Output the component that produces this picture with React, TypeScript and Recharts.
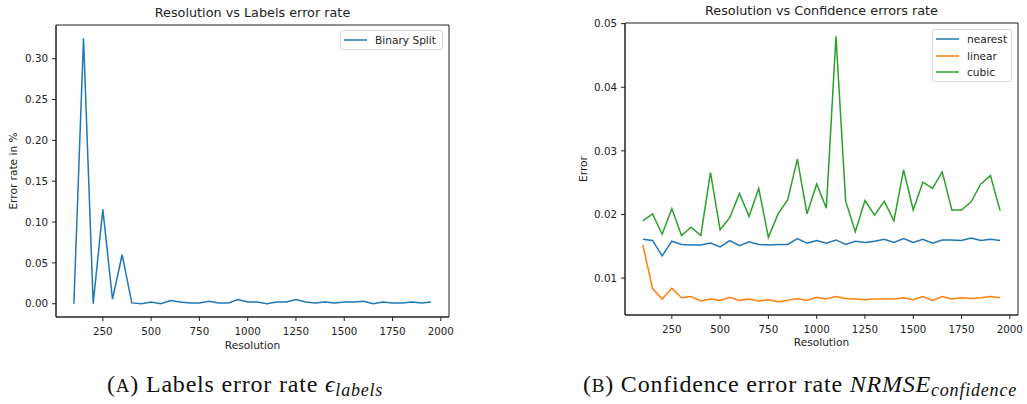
import React from 'react';
import { LineChart, Line, XAxis, YAxis, ReferenceArea } from 'recharts';

// resolutions 100..1950, step 50
const resolutions = [
  100, 150, 200, 250, 300, 350, 400, 450, 500, 550, 600, 650, 700, 750, 800, 850, 900, 950, 1000,
  1050, 1100, 1150, 1200, 1250, 1300, 1350, 1400, 1450, 1500, 1550, 1600, 1650, 1700, 1750, 1800,
  1850, 1900, 1950,
];

const binarySplit = [
  0, 0.325, 0, 0.1155, 0.0057, 0.06, 0.001, 0, 0.002, 0, 0.004, 0.002, 0.001, 0.001, 0.003, 0.001,
  0.001, 0.005, 0.002, 0.002, 0, 0.002, 0.002, 0.005, 0.002, 0.001, 0.002, 0.001, 0.002, 0.002,
  0.003, 0, 0.002, 0.001, 0.001, 0.002, 0.001, 0.002,
];

const nearest = [
  0.0161, 0.0159, 0.0135, 0.0158, 0.0153, 0.0152, 0.0152, 0.0155, 0.0149, 0.0159, 0.0151, 0.0157,
  0.0153, 0.0152, 0.0153, 0.0153, 0.0162, 0.0155, 0.0159, 0.0155, 0.016, 0.0153, 0.0158, 0.0156,
  0.0158, 0.0161, 0.0156, 0.0162, 0.0156, 0.0161, 0.0155, 0.016, 0.016, 0.0159, 0.0163, 0.0159,
  0.0161, 0.0159,
];

const linear = [
  0.0152, 0.0084, 0.0067, 0.0084, 0.0069, 0.0071, 0.0064, 0.0067, 0.0065, 0.007, 0.0065, 0.0067,
  0.0064, 0.0066, 0.0063, 0.0065, 0.0068, 0.0065, 0.007, 0.0067, 0.0071, 0.0068, 0.0067, 0.0066,
  0.0067, 0.0067, 0.0067, 0.0069, 0.0066, 0.0071, 0.0065, 0.0071, 0.0067, 0.0069, 0.0068, 0.0069,
  0.0071, 0.0069,
];

const cubic = [
  0.019, 0.0201, 0.0169, 0.0209, 0.0167, 0.018, 0.0167, 0.0266, 0.0176, 0.0195, 0.0233, 0.0197,
  0.0241, 0.0164, 0.0201, 0.0223, 0.0287, 0.0201, 0.0248, 0.021, 0.048, 0.0221, 0.0173, 0.0222,
  0.0199, 0.0221, 0.019, 0.027, 0.0207, 0.0251, 0.0241, 0.0267, 0.0207, 0.0207, 0.022, 0.0248,
  0.0261, 0.0206,
];

const xTicks = [250, 500, 750, 1000, 1250, 1500, 1750, 2000];
const leftYTicks = [0, 0.05, 0.1, 0.15, 0.2, 0.25, 0.3];
const rightYTicks = [0.01, 0.02, 0.03, 0.04, 0.05];

const leftSeries = [{ key: 'binary', name: 'Binary Split', color: '#1f77b4' }];
const rightSeries = [
  { key: 'nearest', name: 'nearest', color: '#1f77b4' },
  { key: 'linear', name: 'linear', color: '#ff7f0e' },
  { key: 'cubic', name: 'cubic', color: '#2ca02c' },
];

const leftData = resolutions.map((res, i) => ({ res, binary: binarySplit[i] }));
const rightData = resolutions.map((res, i) => ({
  res,
  nearest: nearest[i],
  linear: linear[i],
  cubic: cubic[i],
}));

const FONT = '"DejaVu Sans", sans-serif';
const INK = '#222';
const tickStyle = { fill: INK, fontSize: 10.3, fontFamily: FONT };
const axisLabelFont = { fill: INK, fontSize: 10.6, fontFamily: FONT };
const xDomain: [number, number] = [7.5, 2042.5];
const leftYDomain: [number, number] = [-0.01625, 0.34125];
const rightYDomain: [number, number] = [0.0042, 0.0501];

const MplLegend = ({ items, left, top, width }: any) => (
  <div
    style={{
      position: 'absolute',
      left,
      top,
      width,
      height: items.length * 16.7 + 3,
      border: '1px solid #d6d6d6',
      borderRadius: 3,
      background: 'rgba(255,255,255,0.8)',
      boxSizing: 'border-box',
      fontFamily: FONT,
      fontSize: 10.6,
      color: INK,
    }}
  >
    {items.map((it: any, i: number) => (
      <div
        key={it.key}
        style={{
          position: 'absolute',
          left: 2,
          top: 1 + i * 16.7,
          height: 16,
          display: 'flex',
          alignItems: 'center',
          whiteSpace: 'nowrap',
        }}
      >
        <svg width={24} height={16} style={{ display: 'block' }}>
          <line x1={1} x2={24} y1={8} y2={8} stroke={it.color} strokeWidth={1.5} />
        </svg>
        <span style={{ marginLeft: 8 }}>{it.name}</span>
      </div>
    ))}
  </div>
);

const titleLabel = (value: string) => ({
  value,
  position: 'top' as const,
  offset: 8,
  fill: INK,
  fontSize: 12.8,
  fontFamily: FONT,
});

export default function App() {
  return (
    <div
      style={{
        position: 'absolute',
        left: 0,
        top: 0,
        width: 1027,
        height: 404,
        overflow: 'hidden',
        background: '#fff',
      }}
    >
      {/* (A) labels error rate */}
      <div style={{ position: 'absolute', left: 0, top: 0 }}>
        <LineChart width={460} height={357} data={leftData} margin={{ top: 25, right: 11, bottom: 0, left: 0 }}>
          <XAxis
            dataKey="res"
            type="number"
            domain={xDomain}
            ticks={xTicks}
            allowDataOverflow
            height={40}
            tickSize={4}
            tickMargin={7}
            tick={tickStyle}
            stroke={INK}
            label={{ value: 'Resolution', position: 'insideBottom', offset: 8, ...axisLabelFont }}
          />
          <YAxis
            type="number"
            domain={leftYDomain}
            ticks={leftYTicks}
            allowDataOverflow
            width={56}
            tickSize={4}
            tickMargin={4}
            tick={tickStyle}
            tickFormatter={(v: number) => v.toFixed(2)}
            stroke={INK}
            label={{
              value: 'Error rate in %',
              angle: -90,
              position: 'insideLeft',
              offset: 13,
              ...axisLabelFont,
              style: { textAnchor: 'middle' },
            }}
          />
          <ReferenceArea
            x1={xDomain[0]}
            x2={xDomain[1]}
            y1={leftYDomain[0]}
            y2={leftYDomain[1]}
            fill="none"
            stroke={INK}
            strokeWidth={1}
            label={titleLabel('Resolution vs Labels error rate')}
          />
          {leftSeries.map(s => (
            <Line
              key={s.key}
              dataKey={s.key}
              name={s.name}
              stroke={s.color}
              strokeWidth={1.5}
              dot={false}
              isAnimationActive={false}
            />
          ))}
        </LineChart>
        <MplLegend items={leftSeries} left={340} top={30} width={103} />
      </div>

      {/* (B) confidence error rate */}
      <div style={{ position: 'absolute', left: 560, top: 0 }}>
        <LineChart width={467} height={355} data={rightData} margin={{ top: 23, right: 9, bottom: 0, left: 0 }}>
          <XAxis
            dataKey="res"
            type="number"
            domain={xDomain}
            ticks={xTicks}
            allowDataOverflow
            height={40}
            tickSize={4}
            tickMargin={7}
            tick={tickStyle}
            stroke={INK}
            label={{ value: 'Resolution', position: 'insideBottom', offset: 9, ...axisLabelFont }}
          />
          <YAxis
            type="number"
            domain={rightYDomain}
            ticks={rightYTicks}
            allowDataOverflow
            width={65}
            tickSize={4}
            tickMargin={4}
            tick={tickStyle}
            tickFormatter={(v: number) => v.toFixed(2)}
            stroke={INK}
            label={{
              value: 'Error',
              angle: -90,
              position: 'insideLeft',
              offset: 23,
              ...axisLabelFont,
              style: { textAnchor: 'middle' },
            }}
          />
          <ReferenceArea
            x1={xDomain[0]}
            x2={xDomain[1]}
            y1={rightYDomain[0]}
            y2={rightYDomain[1]}
            fill="none"
            stroke={INK}
            strokeWidth={1}
            label={titleLabel('Resolution vs Confidence errors rate')}
          />
          {rightSeries.map(s => (
            <Line
              key={s.key}
              dataKey={s.key}
              name={s.name}
              stroke={s.color}
              strokeWidth={1.5}
              dot={false}
              isAnimationActive={false}
            />
          ))}
        </LineChart>
        <MplLegend items={rightSeries} left={372} top={29} width={80} />
      </div>

      {/* captions */}
      <svg width={1027} height={49} style={{ position: 'absolute', left: 0, top: 355 }}>
        <g fontFamily='"Liberation Serif", serif' fontSize={24} fill="#111" letterSpacing={0.8}>
          <text x={107} y={36.7}>
            (<tspan fontSize={19}>A</tspan>) Labels error rate <tspan fontStyle="italic">ϵ</tspan>
            <tspan fontStyle="italic" fontSize={18} dy={4}>labels</tspan>
          </text>
          <text x={583} y={36.7}>
            (<tspan fontSize={19}>B</tspan>) Confidence error rate <tspan fontStyle="italic">NRMSE</tspan>
            <tspan fontStyle="italic" fontSize={18} dy={4}>confidence</tspan>
          </text>
        </g>
      </svg>
    </div>
  );
}
